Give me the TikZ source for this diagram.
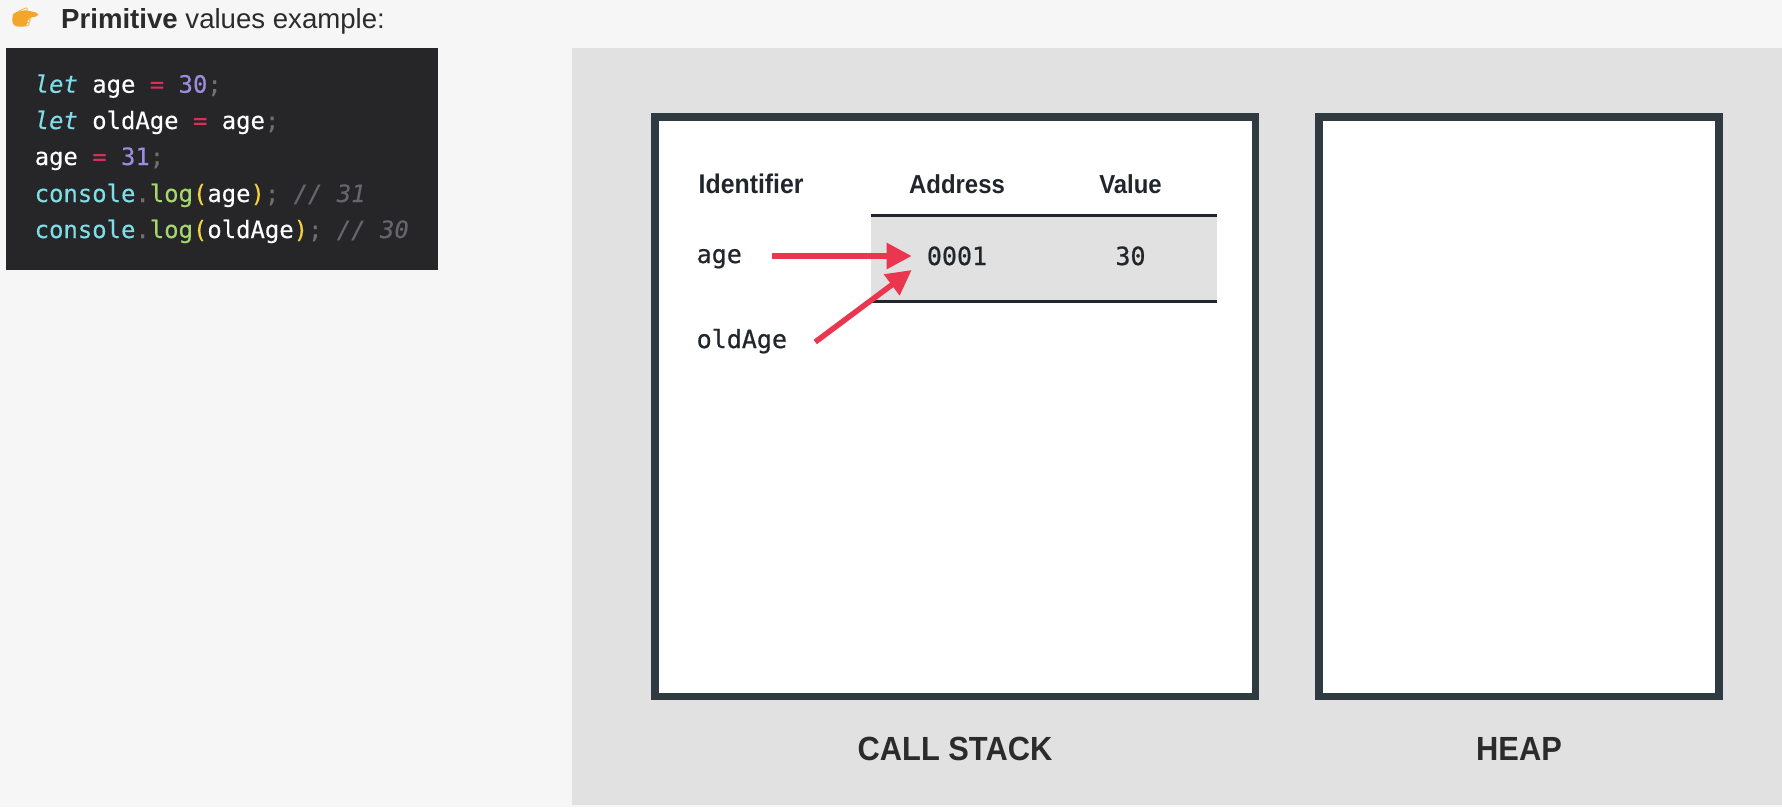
\documentclass[tikz,border=0pt]{standalone}
\usepackage{fontspec}
\usetikzlibrary{arrows.meta}
\setmainfont{Liberation Sans}
\setmonofont[FakeBold=0.25]{DejaVu Sans Mono}
\newfontfamily\headfont[FakeStretch=0.92]{Liberation Sans}
\newfontfamily\labelfont[FakeBold=0.7]{DejaVu Sans Mono}
\newfontfamily\emojifont{Noto Emoji}

\definecolor{pagebg}{HTML}{F6F6F6}
\definecolor{panelbg}{HTML}{E1E1E1}
\definecolor{codebg}{HTML}{262628}
\definecolor{boxedge}{HTML}{2F3B41}
\definecolor{ruleedge}{HTML}{20262C}
\definecolor{inktext}{HTML}{2B2B2B}
\definecolor{arrowred}{HTML}{EB3650}
\definecolor{kwdcol}{HTML}{7FDDE8}
\definecolor{oprcol}{HTML}{D6305C}
\definecolor{nbrcol}{HTML}{9C8CDD}
\definecolor{fnccol}{HTML}{A5D76E}
\definecolor{prncol}{HTML}{F4CF42}
\definecolor{punccol}{HTML}{6F6F6F}
\definecolor{cmtcol}{HTML}{66666A}
\definecolor{emojicol}{HTML}{F4A62A}

\newcommand{\kwd}[1]{{\color{kwdcol}\itshape #1}}
\newcommand{\cns}[1]{{\color{kwdcol}#1}}
\newcommand{\opr}{{\color{oprcol}=}}
\newcommand{\nbr}[1]{{\color{nbrcol}#1}}
\newcommand{\fnc}[1]{{\color{fnccol}#1}}
\newcommand{\prn}[1]{{\color{prncol}#1}}
\newcommand{\pnc}[1]{{\color{punccol}#1}}
\newcommand{\cmt}[1]{{\color{cmtcol}\itshape #1}}

\begin{document}
\begin{tikzpicture}[x=1pt,y=-1pt,
	codeline/.style={anchor=base west,inner sep=0pt,text=white,font=\ttfamily\fontsize{23.9}{24}\selectfont},
	monolabel/.style={inner sep=0pt,text height=18pt,text depth=4pt,text=ruleedge,font=\labelfont\fontsize{25}{25}\selectfont},
	colhead/.style={anchor=base,inner sep=0pt,text=ruleedge,font=\headfont\bfseries\fontsize{26}{26}\selectfont},
	memlabel/.style={anchor=base,inner sep=0pt,text=inktext,font=\headfont\bfseries\fontsize{33.5}{34}\selectfont},
	redarrow/.style={draw=arrowred,line width=5.5pt,-{Triangle[length=25pt,width=25pt]}}]
\useasboundingbox (0,0) rectangle (1782,807);
\fill[pagebg] (0,0) rectangle (1782,807);
\fill[panelbg] (572,48) rectangle (1782,805);

\fill[emojicol,rounded corners=3pt] (13,13) -- (25,10) -- (38,13) -- (38,16) -- (28,18) -- (27,26) -- (16,27) -- (12,23) -- cycle;
\node[anchor=base west,inner sep=0pt,text=emojicol,font=\emojifont\fontsize{20.5}{21}\selectfont] (pointer) at (12,24) {👉};
\node[anchor=base west,inner sep=0pt,text=inktext,font=\fontsize{27.6}{28}\selectfont] (title) at (61,28) {\textbf{Primitive} values example:};

\fill[codebg] (6,48) rectangle (438,270);
\foreach \n/\y/\codetxt in {
	1/92.7/{\kwd{let} age \opr{} \nbr{30}\pnc{;}},
	2/129/{\kwd{let} oldAge \opr{} age\pnc{;}},
	3/165/{age \opr{} \nbr{31}\pnc{;}},
	4/202/{\cns{console}\pnc{.}\fnc{log}\prn{(}age\prn{)}\pnc{;} \cmt{// 31}},
	5/238/{\cns{console}\pnc{.}\fnc{log}\prn{(}oldAge\prn{)}\pnc{;} \cmt{// 30}}} {
	\node[codeline] (code\n) at (34.5,\y) {\codetxt};
}

\foreach \xa/\xb in {655/1255.5,1319/1719} {
	\draw[boxedge,line width=7.5pt,fill=white] (\xa,116.8) rectangle (\xb,696.7);
}

\fill[panelbg] (870.5,215.5) rectangle (1217,301);
\draw[ruleedge,line width=3pt] (870.5,215.5) -- (1217,215.5);
\draw[ruleedge,line width=3pt] (870.5,301) -- (1217,301);

\node[colhead,anchor=base west,font=\headfont\bfseries\fontsize{27}{27}\selectfont] (identifier) at (698.5,193) {Identifier};
\node[colhead] (address) at (957,193) {Address};
\node[colhead] (value) at (1130.5,193) {Value};

\node[monolabel,anchor=west] (age) at (696.5,256) {age};
\node[monolabel,anchor=west] (oldAge) at (696.5,341) {oldAge};
\node[monolabel] (addr) at (957,258) {0001};
\node[monolabel] (val) at (1130.5,258) {30};

\coordinate (agetail) at ([shift={(30,0)}]age.east);
\coordinate (agetip) at ([shift={(-15,-2)}]addr.west);
\coordinate (oldtail) at ([shift={(28,1)}]oldAge.east);
\coordinate (oldtip) at ([shift={(-15,12)}]addr.west);
\draw[redarrow] (agetail) -- (agetip);
\draw[redarrow] (oldtail) -- (oldtip);

\node[memlabel] (stacklabel) at (955,760) {CALL STACK};
\node[memlabel] (heaplabel) at (1519,760) {HEAP};
\end{tikzpicture}
\end{document}
